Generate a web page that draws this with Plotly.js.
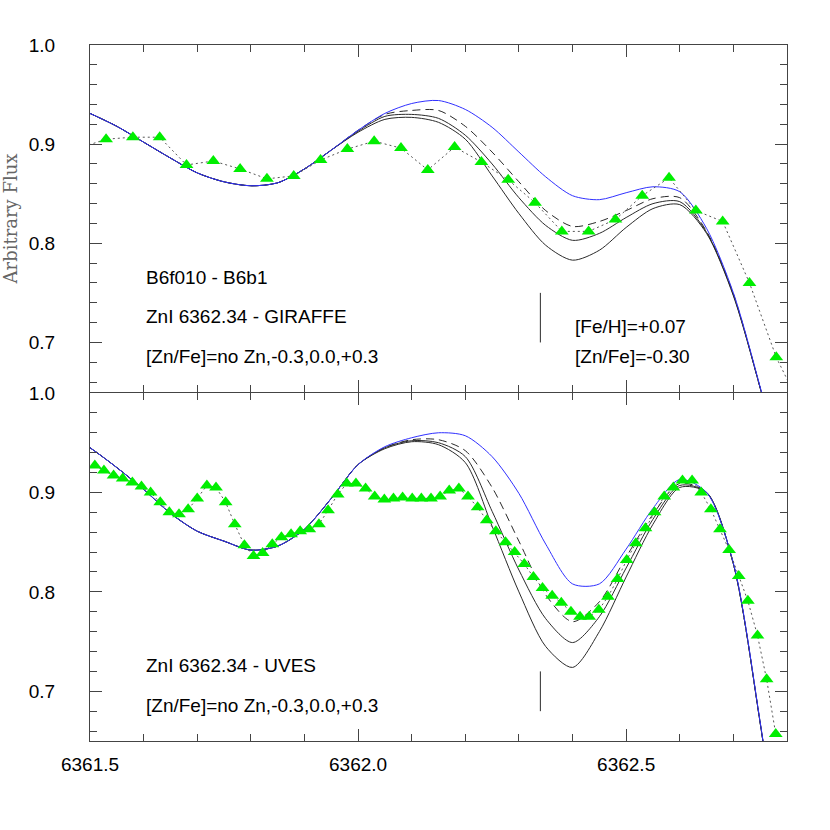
<!DOCTYPE html>
<html>
<head>
<meta charset="utf-8">
<script src="https://cdn.plot.ly/plotly-3.0.1.min.js"></script>
<style>
  html, body { margin: 0; padding: 0; background: #fff; }
  #chart { width: 830px; height: 830px; }
</style>
</head>
<body>
<div id="chart"></div>
<script>
// synthetic spectra grid (wavelength, A)
var xModel = [6361.45, 6361.50, 6361.55, 6361.60, 6361.65, 6361.70, 6361.75, 6361.80, 6361.85, 6361.90,
              6361.95, 6362.00, 6362.05, 6362.10, 6362.15, 6362.20, 6362.25, 6362.30, 6362.35, 6362.40,
              6362.45, 6362.50, 6362.55, 6362.60, 6362.65, 6362.70, 6362.75, 6362.80, 6362.85];

// GIRAFFE panel models
var topNoZn = [0.943, 0.931, 0.918, 0.902, 0.886, 0.871, 0.862, 0.858, 0.861, 0.875,
               0.894, 0.914, 0.931, 0.941, 0.944, 0.935, 0.917, 0.892, 0.867, 0.848,
               0.844, 0.851, 0.857, 0.852, 0.815, 0.750, 0.655, 0.550, 0.450];
var topM03 = [0.943, 0.931, 0.918, 0.902, 0.886, 0.871, 0.862, 0.858, 0.861, 0.875,
              0.894, 0.914, 0.930, 0.934, 0.934, 0.918, 0.892, 0.862, 0.833, 0.817,
              0.822, 0.833, 0.845, 0.846, 0.812, 0.749, 0.654, 0.550, 0.450];
var top00 = [0.943, 0.931, 0.918, 0.902, 0.886, 0.871, 0.862, 0.858, 0.861, 0.875,
             0.894, 0.913, 0.928, 0.930, 0.926, 0.909, 0.880, 0.846, 0.818, 0.803,
             0.810, 0.826, 0.840, 0.842, 0.811, 0.748, 0.654, 0.550, 0.450];
var topP03 = [0.943, 0.931, 0.918, 0.902, 0.886, 0.871, 0.862, 0.858, 0.861, 0.875,
              0.894, 0.912, 0.925, 0.927, 0.922, 0.905, 0.868, 0.830, 0.798, 0.783,
              0.793, 0.816, 0.835, 0.839, 0.810, 0.747, 0.654, 0.550, 0.450];

// UVES panel models
var botNoZn = [0.962, 0.945, 0.925, 0.903, 0.879, 0.861, 0.851, 0.842, 0.846, 0.863,
               0.894, 0.928, 0.946, 0.955, 0.960, 0.957, 0.936, 0.899, 0.848, 0.808,
               0.808, 0.843, 0.884, 0.913, 0.900, 0.829, 0.669, 0.480, 0.300];
var botM03 = [0.962, 0.945, 0.925, 0.903, 0.879, 0.861, 0.851, 0.842, 0.846, 0.863,
              0.894, 0.928, 0.945, 0.953, 0.953, 0.942, 0.905, 0.851, 0.797, 0.770,
              0.790, 0.835, 0.878, 0.909, 0.900, 0.828, 0.668, 0.480, 0.300];
var bot00 = [0.962, 0.945, 0.925, 0.903, 0.879, 0.861, 0.851, 0.842, 0.846, 0.863,
             0.894, 0.928, 0.945, 0.952, 0.950, 0.936, 0.881, 0.822, 0.773, 0.749,
             0.775, 0.824, 0.873, 0.907, 0.900, 0.828, 0.668, 0.480, 0.300];
var botP03 = [0.962, 0.945, 0.925, 0.903, 0.879, 0.861, 0.851, 0.842, 0.846, 0.863,
              0.894, 0.928, 0.944, 0.951, 0.948, 0.930, 0.866, 0.800, 0.745, 0.724,
              0.760, 0.815, 0.868, 0.905, 0.900, 0.828, 0.668, 0.480, 0.300];

// observed spectra
var xGiraffe = [6361.48, 6361.53, 6361.58, 6361.63, 6361.68, 6361.73, 6361.78, 6361.83, 6361.88, 6361.93,
                6361.98, 6362.03, 6362.08, 6362.13, 6362.18, 6362.23, 6362.28, 6362.33, 6362.38, 6362.43,
                6362.48, 6362.53, 6362.58, 6362.63, 6362.68, 6362.73, 6362.78, 6362.83];
var fGiraffe = [0.896, 0.905, 0.907, 0.907, 0.879, 0.883, 0.875, 0.865, 0.868, 0.884,
                0.895, 0.903, 0.896, 0.874, 0.897, 0.882, 0.864, 0.841, 0.812, 0.812,
                0.824, 0.848, 0.866, 0.833, 0.822, 0.760, 0.685, 0.630];

var xUves = [6361.509, 6361.526, 6361.544, 6361.561, 6361.579, 6361.596, 6361.613, 6361.631, 6361.648, 6361.666,
             6361.683, 6361.700, 6361.718, 6361.735, 6361.753, 6361.770, 6361.788, 6361.805, 6361.822, 6361.840,
             6361.857, 6361.875, 6361.892, 6361.909, 6361.927, 6361.944, 6361.962, 6361.979, 6361.996, 6362.014,
             6362.031, 6362.049, 6362.066, 6362.083, 6362.101, 6362.118, 6362.136, 6362.153, 6362.170, 6362.188,
             6362.205, 6362.223, 6362.240, 6362.257, 6362.275, 6362.292, 6362.310, 6362.327, 6362.344, 6362.362,
             6362.379, 6362.397, 6362.414, 6362.431, 6362.449, 6362.466, 6362.484, 6362.501, 6362.518, 6362.536,
             6362.553, 6362.571, 6362.588, 6362.605, 6362.623, 6362.640, 6362.658, 6362.675, 6362.692, 6362.710,
             6362.727, 6362.745, 6362.762, 6362.779];
var fUves = [0.927, 0.922, 0.917, 0.914, 0.910, 0.906, 0.900, 0.890, 0.880, 0.878,
             0.883, 0.894, 0.907, 0.905, 0.890, 0.868, 0.847, 0.836, 0.839, 0.848,
             0.855, 0.858, 0.861, 0.863, 0.868, 0.882, 0.898, 0.909, 0.909, 0.904,
             0.896, 0.893, 0.894, 0.895, 0.894, 0.894, 0.894, 0.896, 0.902, 0.904,
             0.896, 0.885, 0.872, 0.861, 0.850, 0.840, 0.828, 0.815, 0.804, 0.796,
             0.789, 0.780, 0.775, 0.775, 0.782, 0.795, 0.813, 0.832, 0.849, 0.864,
             0.880, 0.896, 0.905, 0.912, 0.912, 0.900, 0.883, 0.863, 0.842, 0.816,
             0.791, 0.756, 0.712, 0.657];

// ZnI line marker
var xZn = [6362.34, 6362.34];
var yZnTop = [0.70, 0.75];
var yZnBot = [0.68, 0.72];

var BLACK = "#2a2a2a";
var BLUE = "#3030ff";
var GREEN = "#00ee00";

function model(y, xa, ya, color, dash) {
    return {
        type: "scatter", mode: "lines", x: xModel, y: y,
        xaxis: xa, yaxis: ya, hoverinfo: "skip",
        line: { color: color, width: 1, dash: dash || "solid", shape: "spline", smoothing: 0.8 }
    };
}

function observed(x, y, xa, ya) {
    return {
        type: "scatter", mode: "lines+markers", x: x, y: y,
        xaxis: xa, yaxis: ya,
        line: { color: "#555", width: 1, dash: "2px,3px" },
        marker: { symbol: "triangle-up", size: 12, color: GREEN }
    };
}

var data = [
    model(topP03, "x2", "y", BLACK),
    model(top00, "x2", "y", BLACK),
    model(topM03, "x2", "y", BLACK, "8px,5px"),
    model(topNoZn, "x2", "y", BLUE),
    observed(xGiraffe, fGiraffe, "x2", "y"),
    { type: "scatter", mode: "lines", x: xZn, y: yZnTop, xaxis: "x2", yaxis: "y",
      line: { color: BLACK, width: 1 } },

    model(botP03, "x", "y2", BLACK),
    model(bot00, "x", "y2", BLACK),
    model(botM03, "x", "y2", BLACK, "8px,5px"),
    model(botNoZn, "x", "y2", BLUE),
    observed(xUves, fUves, "x", "y2"),
    { type: "scatter", mode: "lines", x: xZn, y: yZnBot, xaxis: "x", yaxis: "y2",
      line: { color: BLACK, width: 1 } }
];

var AX = "#444";
var sans = "Liberation Sans, Arial, sans-serif";

function xAxis(extra) {
    var a = {
        range: [6361.5, 6362.8], tick0: 6361.5, dtick: 0.5, tickformat: ".1f",
        ticks: "inside", ticklen: 12, tickcolor: AX, tickwidth: 1,
        minor: { dtick: 0.1, tick0: 6361.5, ticks: "inside", ticklen: 7, tickcolor: AX },
        showline: true, linecolor: AX, linewidth: 1, mirror: "ticks",
        showgrid: false, zeroline: false,
        tickfont: { family: sans, size: 19, color: "#000" }
    };
    for (var k in extra) a[k] = extra[k];
    return a;
}

function yAxis(extra) {
    var a = {
        range: [0.65, 1.0], tick0: 0, dtick: 0.1, tickformat: ".1f",
        ticks: "inside", ticklen: 12, tickcolor: AX, tickwidth: 1,
        minor: { dtick: 0.02, tick0: 0, ticks: "inside", ticklen: 7, tickcolor: AX },
        showline: true, linecolor: AX, linewidth: 1, mirror: "ticks",
        showgrid: false, zeroline: false, ticklabelstandoff: 30,
        tickfont: { family: sans, size: 19, color: "#000" }
    };
    for (var k in extra) a[k] = extra[k];
    return a;
}

function note(text, x, y, xref, yref) {
    return { text: text, x: x, y: y, xref: xref, yref: yref, showarrow: false,
             xanchor: "left", yanchor: "middle", font: { family: sans, size: 19, color: "#000" } };
}

var layout = {
    width: 830, height: 830,
    margin: { l: 90, r: 43, t: 45, b: 89 },
    paper_bgcolor: "#fff", plot_bgcolor: "#fff",
    showlegend: false,
    xaxis: xAxis({ anchor: "y2", domain: [0, 1], ticklabelstandoff: 6 }),
    xaxis2: xAxis({ anchor: "y", domain: [0, 1], matches: "x", showticklabels: false }),
    yaxis: yAxis({ anchor: "x2", domain: [0.5014, 1],
        title: { text: "Arbitrary Flux", standoff: 10,
                 font: { family: "DejaVu Serif, serif", size: 18, color: "#666" } } }),
    yaxis2: yAxis({ anchor: "x", domain: [0, 0.5] }),
    annotations: [
        note("B6f010 - B6b1", 6361.60, 0.766, "x2", "y"),
        note("ZnI 6362.34 - GIRAFFE", 6361.60, 0.726, "x2", "y"),
        note("[Zn/Fe]=no Zn,-0.3,0.0,+0.3", 6361.60, 0.686, "x2", "y"),
        note("[Fe/H]=+0.07", 6362.40, 0.716, "x2", "y"),
        note("[Zn/Fe]=-0.30", 6362.40, 0.686, "x2", "y"),
        note("ZnI 6362.34 - UVES", 6361.60, 0.726, "x", "y2"),
        note("[Zn/Fe]=no Zn,-0.3,0.0,+0.3", 6361.60, 0.686, "x", "y2")
    ]
};

Plotly.newPlot("chart", data, layout, { staticPlot: true });
</script>
</body>
</html>
